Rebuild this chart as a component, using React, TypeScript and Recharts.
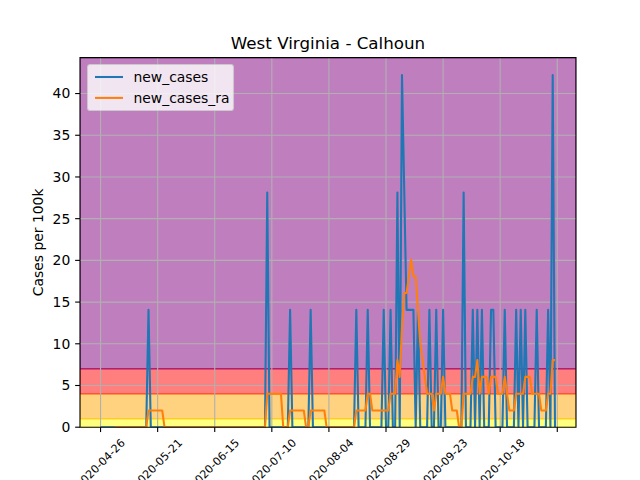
import { LineChart, Line, XAxis, YAxis, ReferenceArea, ReferenceLine, Legend } from 'recharts'

// daily values, day 0 = 2020-04-26
const NEW_CASES = [
  0, 0, 0, 0, 0, 0, 0, 0, 0, 0,
  0, 0, 0, 0, 0, 0, 0, 0, 0, 0,
  0, 14.07, 0, 0, 0, 0, 0, 0, 0, 0,
  0, 0, 0, 0, 0, 0, 0, 0, 0, 0,
  0, 0, 0, 0, 0, 0, 0, 0, 0, 0,
  0, 0, 0, 0, 0, 0, 0, 0, 0, 0,
  0, 0, 0, 0, 0, 0, 0, 0, 0, 0,
  0, 0, 0, 28.14, 0, 0, 0, 0, 0, 0,
  0, 0, 0, 14.07, 0, 0, 0, 0, 0, 0,
  0, 0, 14.07, 0, 0, 0, 0, 0, 0, 0,
  0, 0, 0, 0, 0, 0, 0, 0, 0, 0,
  0, 0, 14.07, 0, 0, 0, 0, 14.07, 0, 0,
  0, 0, 0, 0, 14.07, 0, 0, 14.07, 0, 0,
  28.14, 0, 42.21, 28.14, 14.07, 14.07, 14.07, 14.07, 0, 14.07,
  0, 0, 0, 0, 14.07, 0, 0, 14.07, 0, 0,
  14.07, 0, 0, 0, 0, 0, 0, 0, 0, 28.14,
  0, 0, 0, 14.07, 0, 14.07, 0, 14.07, 0, 0,
  0, 14.07, 14.07, 0, 0, 0, 0, 14.07, 0, 0,
  0, 0, 14.07, 0, 14.07, 0, 14.07, 0, 0, 0,
  0, 14.07, 0, 0, 0, 0, 14.07, 0, 42.21, 0,
]

const NEW_CASES_RA = [
  null, null, null, null, null, null, 0, 0, 0, 0,
  0, 0, 0, 0, 0, 0, 0, 0, 0, 0,
  0, 2.01, 2.01, 2.01, 2.01, 2.01, 2.01, 2.01, 0, 0,
  0, 0, 0, 0, 0, 0, 0, 0, 0, 0,
  0, 0, 0, 0, 0, 0, 0, 0, 0, 0,
  0, 0, 0, 0, 0, 0, 0, 0, 0, 0,
  0, 0, 0, 0, 0, 0, 0, 0, 0, 0,
  0, 0, 0, 4.02, 4.02, 4.02, 4.02, 4.02, 4.02, 4.02,
  0, 0, 0, 2.01, 2.01, 2.01, 2.01, 2.01, 2.01, 2.01,
  0, 0, 2.01, 2.01, 2.01, 2.01, 2.01, 2.01, 2.01, 0,
  0, 0, 0, 0, 0, 0, 0, 0, 0, 0,
  0, 0, 2.01, 2.01, 2.01, 2.01, 2.01, 4.02, 4.02, 2.01,
  2.01, 2.01, 2.01, 2.01, 2.01, 2.01, 2.01, 4.02, 4.02, 4.02,
  8.04, 6.03, 12.06, 16.08, 16.08, 18.09, 20.1, 18.09, 18.09, 14.07,
  10.05, 8.04, 6.03, 4.02, 4.02, 4.02, 2.01, 4.02, 4.02, 4.02,
  6.03, 4.02, 4.02, 4.02, 2.01, 2.01, 2.01, 0, 0, 4.02,
  4.02, 4.02, 4.02, 6.03, 6.03, 8.04, 4.02, 6.03, 6.03, 6.03,
  4.02, 6.03, 6.03, 6.03, 4.02, 4.02, 4.02, 6.03, 4.02, 2.01,
  2.01, 2.01, 4.02, 4.02, 4.02, 4.02, 6.03, 6.03, 6.03, 4.02,
  4.02, 4.02, 4.02, 2.01, 2.01, 2.01, 4.02, 4.02, 8.04, 8.04,
]

const X_TICKS = [0, 25, 50, 75, 100, 125, 150, 175, 200]
const X_TICK_LABELS = [
  '2020-04-26', '2020-05-21', '2020-06-15', '2020-07-10', '2020-08-04',
  '2020-08-29', '2020-09-23', '2020-10-18', '',
]
const Y_TICKS = [0, 5, 10, 15, 20, 25, 30, 35, 40]

// risk bands (cases per 100k)
const BAND_LIMITS = [0, 1, 4, 7, 44.31]
const BAND_COLORS = ['#ffff00', '#ffa500', '#ff0000', '#800080']

const SERIES = [
  { key: 'new_cases', color: '#1f77b4' },
  { key: 'new_cases_ra', color: '#ff7f0e' },
]

const X_DOMAIN: [number, number] = [-9.0, 208.2]
const Y_DOMAIN: [number, number] = [0, 44.31]
const FONT = '"DejaVu Sans", sans-serif'

const data = NEW_CASES.map((v, i) => ({ day: i, new_cases: v, new_cases_ra: NEW_CASES_RA[i] }))

function DateTick(props: any) {
  const { x, y, payload } = props
  const label = X_TICK_LABELS[X_TICKS.indexOf(payload.value)] ?? ''
  const cy = y + 27
  return (
    <text x={x} y={cy} transform={`rotate(-45, ${x}, ${cy})`} textAnchor="middle" dominantBaseline="central"
      fontSize={11.1} fontFamily={FONT} fill="#000">
      {label}
    </text>
  )
}

function LegendBox() {
  return (
    <svg width={148} height={48}>
      <rect x={0.5} y={0.5} width={146} height={46} rx={2.8} fill="#fff" fillOpacity={0.8} stroke="#cccccc" strokeOpacity={0.8} strokeWidth={1.1} />
      {SERIES.map((s, i) => (
        <g key={s.key}>
          <line x1={8} x2={36} y1={13 + i * 20.9} y2={13 + i * 20.9} stroke={s.color} strokeWidth={2.08} />
          <text x={46.5} y={13 + i * 20.9} dominantBaseline="central" fontSize={13.9} fontFamily={FONT} fill="#000">{s.key}</text>
        </g>
      ))}
    </svg>
  )
}

export default function App() {
  const tickLine = { stroke: '#000', strokeWidth: 1.11 }
  return (
    <div style={{ position: 'absolute', left: 0, top: 0, width: 640, height: 480, background: '#fff', fontFamily: FONT }}>
      <svg width={640} height={60} style={{ position: 'absolute', left: 0, top: 0 }}>
        <text x={328} y={49.3} textAnchor="middle" fontSize={16.7} fontFamily={FONT} fill="#000">West Virginia - Calhoun</text>
      </svg>
      <LineChart width={640} height={480} data={data} margin={{ top: 57.6, right: 64, bottom: 0, left: 0 }}>
        <XAxis type="number" dataKey="day" domain={X_DOMAIN} ticks={X_TICKS} interval={0} allowDataOverflow
          height={52.8} axisLine={false} tickLine={tickLine} tickSize={4.86} tickMargin={4.86}
          tick={(p: any) => <DateTick {...p} />} />
        <YAxis type="number" domain={Y_DOMAIN} ticks={Y_TICKS} interval={0} allowDataOverflow width={80}
          axisLine={false} tickLine={tickLine} tickSize={4.86} tickMargin={4.86}
          tick={{ fontSize: 13.9, fill: '#000', fontFamily: FONT }}
          label={{ value: 'Cases per 100k', angle: -90, position: 'center', dx: -2, fontSize: 13.9, fill: '#000', fontFamily: FONT }} />
        {BAND_COLORS.map((c, i) => (
          <ReferenceArea key={c} x1={X_DOMAIN[0]} x2={X_DOMAIN[1]} y1={BAND_LIMITS[i]} y2={BAND_LIMITS[i + 1]}
            fill={c} fillOpacity={0.5} stroke={c} strokeOpacity={0.5} strokeWidth={1.39} ifOverflow="hidden" zIndex={10} />
        ))}
        {Y_TICKS.slice(1).map(t => (
          <ReferenceLine key={'y' + t} y={t} stroke="#b0b0b0" strokeWidth={1.11} zIndex={20} />
        ))}
        {X_TICKS.map(t => (
          <ReferenceLine key={'x' + t} x={t} stroke="#b0b0b0" strokeWidth={1.11} zIndex={20} />
        ))}
        {SERIES.map(s => (
          <Line key={s.key} type="linear" dataKey={s.key} name={s.key} stroke={s.color} strokeWidth={2.08}
            strokeLinejoin="round" dot={false} activeDot={false} isAnimationActive={false} />
        ))}
        <ReferenceArea x1={X_DOMAIN[0]} x2={X_DOMAIN[1]} y1={Y_DOMAIN[0]} y2={Y_DOMAIN[1]}
          fill="none" stroke="#000" strokeWidth={1.11} zIndex={1500} />
        <Legend layout="vertical" align="center" verticalAlign="middle" content={() => <LegendBox />}
          wrapperStyle={{ left: 86.5, top: 64, width: 148, height: 48 }} />
      </LineChart>
    </div>
  )
}
